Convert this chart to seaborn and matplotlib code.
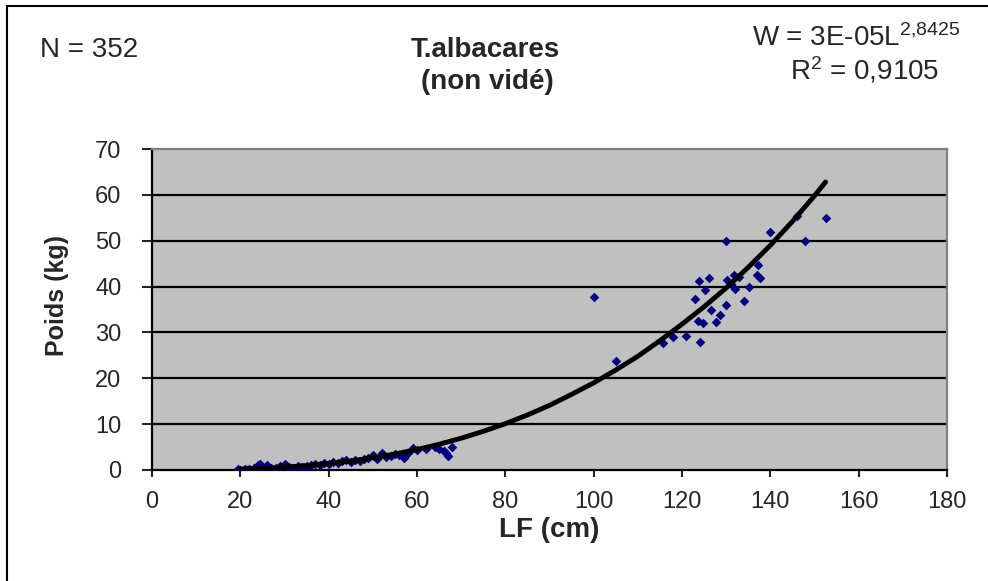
import matplotlib
matplotlib.use("Agg")
import matplotlib.pyplot as plt
import seaborn as sns
from matplotlib.lines import Line2D

# scatter data (LF in cm, weight in kg)
length_cm = [19.5, 20, 21, 22, 23, 24, 24.5, 25, 26, 27, 28, 29, 30, 30.5, 31, 32, 33, 34,
             35, 36, 37, 38, 39, 40, 41, 42, 43, 44, 45, 46, 47, 48, 49, 50, 51, 52, 53, 54,
             55, 56, 57, 58, 59, 60, 62, 64, 65, 66, 66.5, 67, 68,
             100, 105, 115.8, 118, 121, 122.9, 123.7, 123.9, 124.1, 124.8, 125.2, 126, 126.5,
             127.7, 128.6, 129.9, 129.9, 130.1, 131, 131.8, 132, 133, 134, 135.2, 136.9,
             137.3, 137.6, 139.9, 146, 147.8, 152.6]
weight_kg = [0.2, 0.1, 0.2, 0.3, 0.4, 1.0, 1.4, 0.3, 1.0, 0.5, 0.4, 0.9, 1.2, 0.5, 0.6, 0.4, 0.8, 0.7,
             0.9, 1.0, 1.2, 1.0, 1.6, 1.4, 1.8, 1.5, 1.9, 2.1, 1.8, 2.2, 2.0, 2.4, 2.6, 3.2, 2.5, 3.8, 2.9, 3.0,
             3.4, 3.2, 2.7, 3.6, 4.8, 4.4, 4.5, 5.0, 4.6, 4.1, 3.6, 3.0, 5.1,
             37.7, 23.8, 27.6, 29.0, 29.2, 37.2, 32.6, 41.3, 28.0, 32.1, 39.2, 41.9, 35.0,
             32.3, 33.8, 36.0, 50.0, 41.4, 40.5, 42.5, 39.4, 42.0, 36.9, 40.0, 42.5,
             44.7, 41.8, 51.9, 55.4, 50.0, 54.9]

# power trendline as drawn in the picture
curve_x = [20, 25, 30, 35, 40, 45, 50, 55, 60, 65, 70, 75, 80, 85, 90, 95, 100,
           105, 110, 115, 120, 125, 130, 135, 140, 145, 150, 152.5]
curve_y = [0.2, 0.37, 0.62, 0.96, 1.41, 1.97, 2.66, 3.49, 4.47, 5.61, 6.93, 8.43, 10.1, 12.0,
           14.1, 16.5, 19.0, 21.8, 24.8, 28.2, 31.8, 35.6, 39.7, 44.2, 49.0, 54.2, 59.8, 62.8]

x_ticks = [0, 20, 40, 60, 80, 100, 120, 140, 160, 180]
y_ticks = [0, 10, 20, 30, 40, 50, 60, 70]

sns.set_style("white")
plt.rcParams['font.family'] = ['Liberation Sans', 'DejaVu Sans']
plt.rcParams['mathtext.fontset'] = 'custom'
plt.rcParams['mathtext.rm'] = 'Liberation Sans'
plt.rcParams['mathtext.default'] = 'regular'

W, H = 988, 581
fig = plt.figure(figsize=(W / 100, H / 100), dpi=100)
ax = fig.add_axes([152 / W, 1 - 470 / H, (947 - 152) / W, (470 - 149) / H])
ax.set_facecolor('#c0c0c0')

# horizontal gridlines
for yv in y_ticks[1:-1]:
    ax.axhline(yv, color='black', lw=1.6, zorder=1)

sns.scatterplot(x=length_cm, y=weight_kg, marker='D', s=24, color='#000080',
                linewidth=0, ax=ax, zorder=3)
sns.lineplot(x=curve_x, y=curve_y, color='black', lw=3.5, sort=False,
             estimator=None, ax=ax, zorder=4)

ax.set_xlim(0, 180)
ax.set_ylim(0, 70)
ax.set_xticks(x_ticks)
ax.set_yticks(y_ticks)
ax.tick_params(axis='x', length=5, width=1.5, pad=10, labelsize=17, direction='out', bottom=True)
ax.tick_params(axis='y', length=7, width=1.5, pad=15, labelsize=17, direction='out', left=True)
for s in ['left', 'bottom']:
    ax.spines[s].set_color('black')
    ax.spines[s].set_linewidth(1.6)
for s in ['top', 'right']:
    ax.spines[s].set_color('#808080')
    ax.spines[s].set_linewidth(1.6)

# axis titles
fig.text(57 / W, 1 - 295 / H, 'Poids (kg)', rotation=90, ha='center', va='center',
         fontsize=18, fontweight='bold')
fig.text(549 / W, 1 - 530 / H, 'LF (cm)', ha='center', va='center',
         fontsize=20, fontweight='bold')

# header texts
fig.text(485 / W, 1 - 50 / H, 'T.albacares', ha='center', va='center', fontsize=20, fontweight='bold')
fig.text(487 / W, 1 - 82 / H, '(non vidé)', ha='center', va='center', fontsize=20, fontweight='bold')
fig.text(40 / W, 1 - 50 / H, 'N = 352', ha='left', va='center', fontsize=20)
fig.text(856 / W, 1 - 38 / H, r'W = 3E-05L$^{2{,}8425}$', ha='center', va='center', fontsize=20)
fig.text(865 / W, 1 - 70 / H, r'R$^{2}$ = 0,9105', ha='center', va='center', fontsize=20)

# chart area border (cut at the right and bottom in the picture)
fig.add_artist(Line2D([7 / W, 7 / W], [0, 1 - 6 / H], color='black', lw=1.5))
fig.add_artist(Line2D([7 / W, 1], [1 - 6 / H, 1 - 6 / H], color='black', lw=1.5))

fig.savefig('out.png', dpi=100, facecolor='white')
